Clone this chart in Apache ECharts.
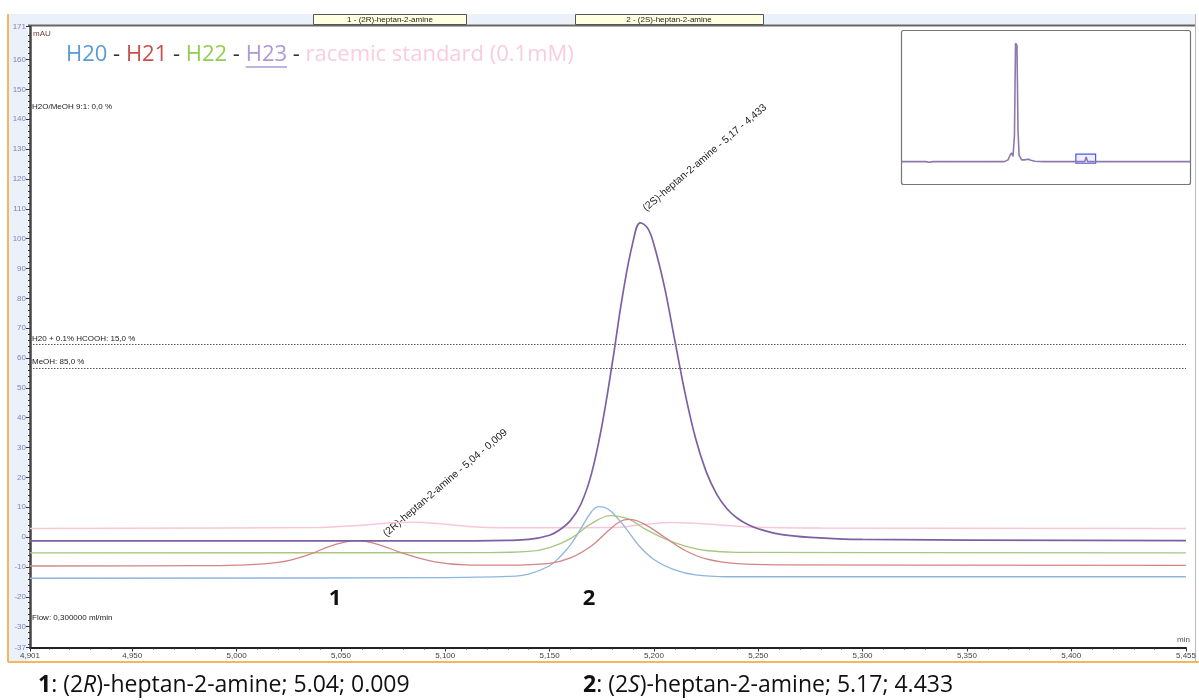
<!DOCTYPE html>
<html><head><meta charset="utf-8">
<script src="https://cdn.jsdelivr.net/npm/echarts@6/dist/echarts.min.js"></script>
<style>html,body{margin:0;padding:0;background:#fff}#c{width:1199px;height:700px}</style>
</head><body><div id="c"></div>
<script>
// ---- data ----
const xMin = 4.901, xMax = 5.455, yMin = -37, yMax = 171;
const xTickLabels = [4.901, 4.95, 5.0, 5.05, 5.1, 5.15, 5.2, 5.25, 5.3, 5.35, 5.4, 5.455];
const yTickLabels = [-37, -30, -20, -10, 0, 10, 20, 30, 40, 50, 60, 70, 80, 90, 100, 110, 120, 130, 140, 150, 160, 171];

const seriesH20 = [[4.901,-13.8],[5.1,-13.6],[5.13,-13.2],[5.14,-12.4],[5.15,-9.6],[5.155,-6.6],[5.16,-2.6],[5.165,2.8],[5.17,8.4],[5.1735,10.2],[5.178,9.4],[5.183,6.0],[5.188,1.6],[5.193,-3.0],[5.2,-7.5],[5.21,-11.0],[5.22,-12.7],[5.235,-13.3],[5.455,-13.3]];
const seriesH21 = [[4.901,-9.7],[4.98,-9.6],[5.0,-9.4],[5.02,-8.5],[5.035,-5.8],[5.045,-3.0],[5.0575,-1.2],[5.068,-2.5],[5.08,-5.5],[5.095,-8.3],[5.11,-9.3],[5.13,-9.4],[5.15,-8.8],[5.16,-7.0],[5.17,-3.0],[5.178,2.0],[5.184,5.3],[5.188,5.9],[5.195,4.5],[5.205,0.0],[5.215,-4.5],[5.225,-7.3],[5.24,-8.9],[5.26,-9.3],[5.455,-9.5]];
const seriesH22 = [[4.901,-5.3],[5.12,-5.2],[5.14,-4.8],[5.15,-3.5],[5.16,-0.5],[5.17,4.5],[5.1795,7.2],[5.188,6.0],[5.195,3.0],[5.205,-0.5],[5.215,-3.0],[5.225,-4.5],[5.24,-5.1],[5.455,-5.3]];
const seriesH23 = [[4.901,-1.3],[5.1,-1.3],[5.13,-1.1],[5.14,-0.8],[5.15,0.6],[5.155,2.5],[5.16,5.5],[5.165,11.0],[5.17,21.0],[5.175,37.0],[5.18,58.0],[5.185,81.0],[5.19,99.0],[5.1935,105.3],[5.197,103.5],[5.2,98.0],[5.205,84.0],[5.21,66.0],[5.215,48.0],[5.22,33.0],[5.225,22.0],[5.23,14.5],[5.235,9.5],[5.24,6.3],[5.245,4.2],[5.25,2.8],[5.26,1.0],[5.275,-0.1],[5.3,-0.8],[5.455,-1.2]];
const seriesRacemic = [[4.901,2.9],[5.04,3.2],[5.06,4.0],[5.075,4.8],[5.085,5.0],[5.1,4.3],[5.115,3.4],[5.14,3.1],[5.18,3.2],[5.195,4.2],[5.208,4.9],[5.225,4.4],[5.245,3.4],[5.28,3.0],[5.455,2.9]];
const gradientLevels = [64.5, 56.7];
const overviewTrace = [[0,0],[0.7,0],[0.78,-15],[0.82,10],[0.9,0],[1.45,0],[1.5,12],[1.55,0],[2.0,0],[2.05,10],[2.1,0],[2.3,0],[2.35,12],[2.4,0],[2.9,0],[3.0,40],[3.06,150],[3.1,200],[3.14,120],[3.18,600],[3.21,2700],[3.25,2650],[3.28,700],[3.31,150],[3.38,40],[3.45,40],[3.57,55],[3.6,60],[3.64,30],[3.75,10],[4.0,0],[5.15,0],[5.19,105],[5.23,0],[8.1,0]];

// minor tick positions (axis decoration only)
const xMinor = []; for (let i = 491; i <= 545; i++) { if (i % 5) xMinor.push(i / 100); }
const yMinor = []; for (let v = -36; v <= 170; v += 2) { if (v % 10) yMinor.push(v); }

const fmtX = v => v.toFixed(3).replace('.', ',');

const chart = echarts.init(document.getElementById('c'), null, {renderer: 'canvas'});
const mainLine = (name, data, color, width, z) => ({
  type: 'line', name, data, xAxisIndex: 0, yAxisIndex: 0, smooth: 0.4,
  symbol: 'none', lineStyle: {color, width}, z, silent: true
});

const option = {
  animation: false,
  backgroundColor: '#fff',
  grid: [
    {left: 30, right: 11, top: 26.7, bottom: 52.5},
    {left: 901, top: 30, width: 289, height: 154}
  ],
  xAxis: [
    {type: 'value', gridIndex: 0, min: xMin, max: xMax,
     axisLine: {show: true, onZero: false, lineStyle: {color: '#222', width: 2}},
     axisTick: {show: true, customValues: xTickLabels, length: 4, lineStyle: {color: '#333'}},
     axisLabel: {show: true, customValues: xTickLabels, formatter: fmtX, fontSize: 8, color: '#444', margin: 4, fontFamily: 'Liberation Sans', hideOverlap: false},
     splitLine: {show: false}},
    {type: 'value', gridIndex: 0, min: xMin, max: xMax, position: 'bottom',
     axisLine: {show: false, onZero: false}, axisTick: {show: true, customValues: xMinor, length: 2, lineStyle: {color: '#333'}},
     axisLabel: {show: false}, splitLine: {show: false}},
    {type: 'value', gridIndex: 1, min: 0, max: 8.1, show: false}
  ],
  yAxis: [
    {type: 'value', gridIndex: 0, min: yMin, max: yMax,
     axisLine: {show: true, onZero: false, lineStyle: {color: '#444', width: 2.5}},
     axisTick: {show: true, customValues: yTickLabels, length: 4, lineStyle: {color: '#333'}},
     axisLabel: {show: true, customValues: yTickLabels, fontSize: 8, color: '#8a80b8', margin: 4, fontFamily: 'Liberation Sans'},
     splitLine: {show: false}},
    {type: 'value', gridIndex: 0, min: yMin, max: yMax, position: 'left',
     axisLine: {show: false, onZero: false}, axisTick: {show: true, customValues: yMinor, length: 2, lineStyle: {color: '#333'}},
     axisLabel: {show: false}, splitLine: {show: false}},
    {type: 'value', gridIndex: 1, min: -510, max: 3000, show: false}
  ],
  series: [
    mainLine('racemic standard (0.1mM)', seriesRacemic, '#f9c6dc', 1.5, 2),
    mainLine('H20', seriesH20, '#8fb5df', 1.3, 3),
    mainLine('H22', seriesH22, '#a9c57f', 1.3, 4),
    mainLine('H21', seriesH21, '#d38585', 1.3, 5),
    mainLine('H23', seriesH23, '#7d60a4', 1.7, 6),
    {type: 'line', xAxisIndex: 0, yAxisIndex: 0, data: [], silent: true,
     markLine: {silent: true, symbol: 'none', label: {show: false},
       lineStyle: {color: '#555', type: [1.5, 1.5], width: 1},
       data: gradientLevels.map(v => ({yAxis: v}))}},
    {type: 'line', xAxisIndex: 2, yAxisIndex: 2, data: overviewTrace, symbol: 'none', silent: true,
     lineStyle: {color: '#8d7aa8', width: 1.6},
     markArea: {silent: true, itemStyle: {color: 'rgba(120,120,255,0.12)', borderColor: '#4a55f0', borderWidth: 1.2},
       data: [[{coord: [xMin, yMin]}, {coord: [xMax, yMax]}]]}}
  ]
};
chart.setOption(option);

const px = (x, y) => chart.convertToPixel({gridIndex: 0}, [x, y]);
const a2 = px(5.197, 108.5);
const a1 = px(5.0725, -0.5);
const rot = 40.5 * Math.PI / 180;
const txt = (x, y, text, extra) => ({type: 'text', x, y, silent: true,
  style: Object.assign({text, fill: '#222', font: '8px "Liberation Sans"', align: 'left', verticalAlign: 'middle'}, extra || {})});

// measure legend text for the H23 underline
const mctx = document.createElement('canvas').getContext('2d');
const legendFont = '22px "Open Sans"';
mctx.font = legendFont;
const ulStart = 66 + mctx.measureText('H20 - H21 - H22 - ').width;
const ulEnd = ulStart + mctx.measureText('H23').width;

const capRich = {b: {font: 'bold 23px "Open Sans"', fill: '#111'}, n: {font: '23px "Open Sans"', fill: '#111'}, i: {font: 'italic 23px "Open Sans"', fill: '#111'}};

const graphic = [
  // frame decorations
  {type: 'rect', shape: {x: 8, y: 14, width: 20, height: 648}, style: {fill: '#eaf1fb'}, z: -10, silent: true},
  {type: 'rect', shape: {x: 28, y: 14, width: 1167, height: 11}, style: {fill: '#eaf1fb'}, z: -10, silent: true},
  {type: 'line', shape: {x1: 8, y1: 14, x2: 8, y2: 662}, style: {stroke: '#f3b760', lineWidth: 2}, silent: true},
  {type: 'line', shape: {x1: 8, y1: 662, x2: 1199, y2: 662}, style: {stroke: '#f3b760', lineWidth: 2}, silent: true},
  {type: 'line', shape: {x1: 28, y1: 25.5, x2: 1195, y2: 25.5}, style: {stroke: '#666', lineWidth: 2}, silent: true},
  {type: 'line', shape: {x1: 1195.5, y1: 14, x2: 1195.5, y2: 662}, style: {stroke: '#bbb', lineWidth: 1}, silent: true},
  // top peak boxes
  {type: 'rect', shape: {x: 313.5, y: 14.5, width: 153, height: 10}, style: {fill: '#ffffe2', stroke: '#555', lineWidth: 1}, silent: true},
  txt(390, 20, '1 - (2R)-heptan-2-amine', {align: 'center'}),
  {type: 'rect', shape: {x: 575.5, y: 14.5, width: 188, height: 10}, style: {fill: '#ffffe2', stroke: '#555', lineWidth: 1}, silent: true},
  txt(669, 20, '2 - (2S)-heptan-2-amine', {align: 'center'}),
  // instrument annotations
  txt(33, 34, 'mAU', {fill: '#6b3a3a'}),
  txt(32, 107, 'H2O/MeOH 9:1: 0,0 %'),
  txt(32, 339, 'H20 + 0.1% HCOOH: 15,0 %'),
  txt(32, 362, 'MeOH: 85,0 %'),
  txt(32, 618, 'Flow: 0,300000 ml/min'),
  txt(1177, 640, 'min', {fill: '#6b3a6b'}),
  // rotated peak labels
  {type: 'text', x: a2[0], y: a2[1], rotation: rot, silent: true,
   style: {text: '(2S)-heptan-2-amine - 5,17 - 4,433', fill: '#222', font: '10.3px "Liberation Sans"', align: 'left', verticalAlign: 'bottom'}},
  {type: 'text', x: a1[0], y: a1[1], rotation: rot, silent: true,
   style: {text: '(2R)-heptan-2-amine - 5,04 - 0,009', fill: '#222', font: '10.3px "Liberation Sans"', align: 'left', verticalAlign: 'bottom'}},
  // peak numbers
  txt(335, 599, '1', {font: 'bold 22px "Open Sans"', fill: '#111', align: 'center'}),
  txt(589, 599, '2', {font: 'bold 22px "Open Sans"', fill: '#111', align: 'center'}),
  // legend-like title
  {type: 'text', x: 66, y: 55, silent: true, style: {
    text: '{a|H20}{d| - }{b|H21}{d| - }{c|H22}{d| - }{e|H23}{d| - }{f|racemic standard (0.1mM)}',
    font: legendFont, verticalAlign: 'middle',
    rich: {a: {fill: '#5b9bd5', font: legendFont}, b: {fill: '#c9504d', font: legendFont},
      c: {fill: '#8fcf50', font: legendFont}, d: {fill: '#333', font: legendFont},
      e: {fill: '#ad98d8', font: legendFont}, f: {fill: '#f8cde0', font: legendFont}}}},
  {type: 'line', shape: {x1: ulStart, y1: 67, x2: ulEnd, y2: 67}, style: {stroke: '#ad98d8', lineWidth: 1.5}, silent: true},
  // inset frame
  {type: 'rect', shape: {x: 901.5, y: 30.5, width: 289, height: 154, r: 2}, style: {fill: 'none', stroke: '#777', lineWidth: 1.2}, silent: true, z: 10},
  // bottom captions
  {type: 'text', x: 38, y: 685, silent: true, style: {
    text: '{b|1}{n|: (2}{i|R}{n|)-heptan-2-amine; 5.04; 0.009}', verticalAlign: 'middle', rich: capRich}},
  {type: 'text', x: 583, y: 685, silent: true, style: {
    text: '{b|2}{n|: (2}{i|S}{n|)-heptan-2-amine; 5.17; 4.433}', verticalAlign: 'middle', rich: capRich}}
];
chart.setOption({graphic});
</script>
</body></html>
